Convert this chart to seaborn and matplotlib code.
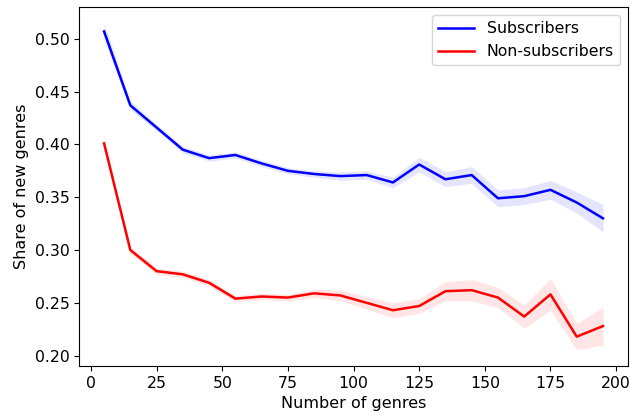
import numpy as np
import pandas as pd
import seaborn as sns
import matplotlib
matplotlib.use("Agg")
import matplotlib.pyplot as plt

n_genres = [5, 15, 25, 35, 45, 55, 65, 75, 85, 95, 105, 115, 125, 135, 145, 155, 165, 175, 185, 195]

subs_mean = [0.507, 0.437, 0.416, 0.395, 0.387, 0.390, 0.382, 0.375, 0.372, 0.370,
             0.371, 0.364, 0.381, 0.367, 0.371, 0.349, 0.351, 0.357, 0.345, 0.330]
subs_err = [0.008, 0.004, 0.003, 0.003, 0.003, 0.003, 0.003, 0.003, 0.003, 0.004,
            0.004, 0.005, 0.007, 0.007, 0.008, 0.008, 0.008, 0.009, 0.010, 0.013]

non_mean = [0.401, 0.300, 0.280, 0.277, 0.269, 0.254, 0.256, 0.255, 0.259, 0.257,
            0.250, 0.243, 0.247, 0.261, 0.262, 0.255, 0.237, 0.258, 0.218, 0.228]
non_err = [0.003, 0.003, 0.003, 0.003, 0.003, 0.003, 0.003, 0.003, 0.004, 0.005,
           0.006, 0.007, 0.007, 0.009, 0.010, 0.0095, 0.011, 0.015, 0.0125, 0.018]

df = pd.DataFrame({
    "genres": n_genres * 2,
    "share": subs_mean + non_mean,
    "err": subs_err + non_err,
    "group": ["Subscribers"] * len(n_genres) + ["Non-subscribers"] * len(n_genres),
})

fig, ax = plt.subplots(figsize=(6.33, 4.19), dpi=100)
palette = {"Subscribers": "blue", "Non-subscribers": "red"}

sns.lineplot(data=df, x="genres", y="share", hue="group", palette=palette,
             linewidth=1.8, ax=ax)

# confidence bands
for grp, col in palette.items():
    d = df[df["group"] == grp]
    ax.fill_between(d["genres"], d["share"] - d["err"], d["share"] + d["err"],
                    color=col, alpha=0.1, linewidth=0)

ax.set_xlabel("Number of genres", fontsize=11.5)
ax.set_ylabel("Share of new genres", fontsize=11.5)
ax.tick_params(labelsize=11.3)
ax.set_ylim(0.19, 0.53)
ax.set_yticks([0.20, 0.25, 0.30, 0.35, 0.40, 0.45, 0.50])
ax.legend(title=None, loc="upper right", fontsize=11.3, handlelength=2.3)

plt.subplots_adjust(left=0.125, right=0.992, top=0.983, bottom=0.126)
plt.savefig("out.png", dpi=100)
